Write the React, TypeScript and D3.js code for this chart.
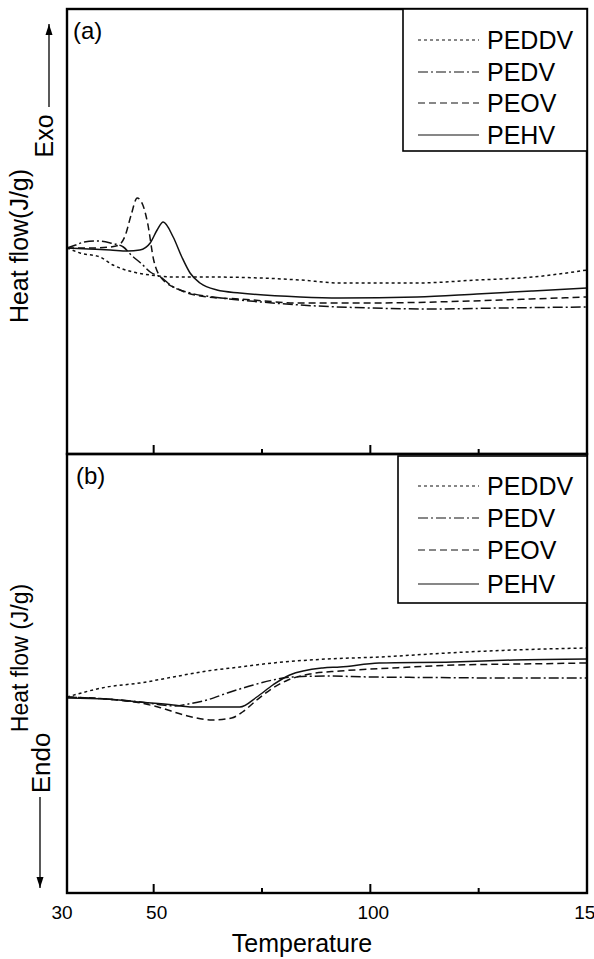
import React, { useEffect, useRef } from "react";
import * as d3 from "d3";

// Temperature (°C) and heat flow (arbitrary units)
// Panel (a): cooling scan
const coolPEDDV = [
  [30, 0], [33, -0.5], [37.6, -0.9], [40.6, -1.7], [45.2, -2.4], [49.2, -2.7],
  [54.5, -2.9], [62.3, -2.9], [83.8, -3.2], [93, -3.5], [110.8, -3.5],
  [124.6, -3.2], [137.5, -2.9], [150, -2.2],
];
const coolPEDV = [
  [30, 0], [32, 0.3], [34, 0.6], [37, 0.7], [40, 0.5], [43, 0.1], [44.8, -0.7],
  [47, -1.5], [49.2, -2.4], [51.6, -2.9], [54.5, -3.9], [58.4, -4.5],
  [63.7, -4.9], [69.9, -5.2], [83.8, -5.7], [100, -6.0], [115, -6.1],
  [130, -6.0], [150, -5.9],
];
const coolPEOV = [
  [30, 0], [36, 0], [40, 0.1], [42, 0.3], [43.4, 1.2], [44.8, 3.3], [46.2, 5.0],
  [47.5, 4.3], [48.6, 2.5], [50, -1.2], [51.6, -2.9], [56.1, -4.2],
  [62.3, -4.9], [69.9, -5.1], [83.8, -5.5], [100, -5.5], [115, -5.4],
  [130, -5.2], [150, -4.9],
];
const coolPEHV = [
  [30, 0], [35, -0.1], [40, -0.2], [44, -0.3], [46.8, -0.2], [49.2, 0.5],
  [50.8, 1.8], [52.2, 2.6], [54.5, 1.1], [56.5, -0.9], [58.4, -2.5],
  [60.7, -3.5], [64.6, -4.2], [69.9, -4.5], [83.8, -4.9], [93, -5.0],
  [110.8, -4.9], [124.6, -4.6], [137.5, -4.3], [150, -4.0],
];

// Panel (b): heating scan
const heatPEDDV = [
  [30, 0], [39.2, 1.0], [46.8, 1.4], [54.5, 2.0], [62.3, 2.6], [69.9, 3.0],
  [77.5, 3.4], [90, 3.8], [102.2, 4.0], [117.7, 4.4], [132.9, 4.7], [150, 4.9],
];
const heatPEDV = [
  [30, 0], [39, -0.2], [47, -0.5], [52, -0.8], [55, -0.9], [58, -0.7],
  [62.3, -0.3], [67, 0.4], [73, 1.2], [77.5, 1.7], [82, 2.0], [90, 2.1],
  [100, 2.0], [115, 1.95], [130, 1.9], [150, 1.9],
];
const heatPEOV = [
  [30, 0], [39, -0.2], [47, -0.6], [51, -1.0], [57, -1.8], [63.5, -2.3],
  [68, -2.1], [70.5, -1.5], [73.8, -0.3], [77.5, 0.9], [81, 1.7], [86, 2.3],
  [93, 2.6], [105, 2.9], [120, 3.2], [135, 3.3], [150, 3.4],
];
const heatPEHV = [
  [30, -0.1], [39.2, -0.2], [46.8, -0.5], [54.5, -0.8], [58.4, -1.0],
  [69.9, -1.0], [73.8, 0], [77.5, 1.2], [81.4, 2.2], [89, 2.9], [93, 3.0],
  [102, 3.4], [119, 3.5], [133, 3.7], [150, 3.8],
];

const seriesNames = ["PEDDV", "PEDV", "PEOV", "PEHV"];
const dashes = ["3,3", "10,3,2,3", "7,4", null];
const majorTicks = [30, 50, 100, 150];
const minorTicks = [75, 125];

const App = () => {
  const svgRef = useRef(null);

  useEffect(() => {
    const W = 594;
    const H = 959;
    const left = 67;
    const right = 587;
    const aTop = 9;
    const mid = 454;
    const bBottom = 893;
    const font = "'Liberation Sans', Arial, sans-serif";

    const svg = d3.select(svgRef.current);
    svg.selectAll("*").remove();
    svg.attr("width", W).attr("height", H);

    const x = d3.scaleLinear().domain([30, 150]).range([left, right]);
    const yA = d3.scaleLinear().domain([-20.6, 23.9]).range([mid, aTop]);
    const yB = d3.scaleLinear().domain([-19.6, 24.3]).range([bBottom, mid]);

    const panels = [
      { y: yA, top: aTop, bottom: mid, data: [coolPEDDV, coolPEDV, coolPEOV, coolPEHV] },
      { y: yB, top: mid, bottom: bBottom, data: [heatPEDDV, heatPEDV, heatPEOV, heatPEHV] },
    ];

    panels.forEach((p) => {
      const line = d3
        .line()
        .x((d) => x(d[0]))
        .y((d) => p.y(d[1]))
        .curve(d3.curveMonotoneX);
      p.data.forEach((s, i) => {
        svg
          .append("path")
          .datum(s)
          .attr("fill", "none")
          .attr("stroke", "#111")
          .attr("stroke-width", 1.5)
          .attr("stroke-dasharray", dashes[i])
          .attr("d", line);
      });

      // frame
      svg
        .append("rect")
        .attr("x", left)
        .attr("y", p.top)
        .attr("width", right - left)
        .attr("height", p.bottom - p.top)
        .attr("fill", "none")
        .attr("stroke", "#000")
        .attr("stroke-width", 2.4);

      // inward ticks on the bottom edge
      majorTicks.filter((t) => t > 30 && t < 150).forEach((t) => {
        svg.append("line")
          .attr("x1", x(t)).attr("x2", x(t))
          .attr("y1", p.bottom).attr("y2", p.bottom - 9)
          .attr("stroke", "#000").attr("stroke-width", 2);
      });
      minorTicks.forEach((t) => {
        svg.append("line")
          .attr("x1", x(t)).attr("x2", x(t))
          .attr("y1", p.bottom).attr("y2", p.bottom - 5)
          .attr("stroke", "#000").attr("stroke-width", 2);
      });
    });

    // legends
    const legends = [
      { x0: 403, top: aTop, bottom: 151, rows: [40, 72, 103, 135] },
      { x0: 398, top: mid + 2, bottom: 603, rows: [486, 518, 550, 584] },
    ];
    legends.forEach((lg) => {
      svg
        .append("rect")
        .attr("x", lg.x0)
        .attr("y", lg.top)
        .attr("width", right - lg.x0)
        .attr("height", lg.bottom - lg.top)
        .attr("fill", "#fff")
        .attr("stroke", "#000")
        .attr("stroke-width", 1.6);
      seriesNames.forEach((name, i) => {
        svg.append("line")
          .attr("x1", 418).attr("x2", 479)
          .attr("y1", lg.rows[i]).attr("y2", lg.rows[i])
          .attr("stroke", "#111").attr("stroke-width", 1.2)
          .attr("stroke-dasharray", dashes[i]);
        svg.append("text")
          .attr("x", 487).attr("y", lg.rows[i])
          .attr("dy", "0.36em")
          .style("font-family", font).style("font-size", "25px")
          .text(name);
      });
    });

    // panel tags
    svg.append("text").attr("x", 73).attr("y", 39)
      .style("font-family", font).style("font-size", "24px").text("(a)");
    svg.append("text").attr("x", 76).attr("y", 484)
      .style("font-family", font).style("font-size", "24px").text("(b)");

    // tick labels (the last one runs off the right edge, as in the original)
    majorTicks.forEach((t) => {
      svg.append("text")
        .attr("x", t === 30 ? x(t) - 5 : x(t) + 3)
        .attr("y", 919)
        .attr("text-anchor", "middle")
        .style("font-family", font).style("font-size", "19px")
        .text(t);
    });

    svg.append("text").attr("x", 302).attr("y", 952)
      .attr("text-anchor", "middle")
      .style("font-family", font).style("font-size", "25px")
      .text("Temperature");

    // rotated labels
    const vtext = (txt, cx, cy, size) =>
      svg.append("text")
        .attr("transform", `translate(${cx},${cy}) rotate(-90)`)
        .attr("text-anchor", "middle")
        .style("font-family", font).style("font-size", size)
        .text(txt);
    vtext("Heat flow(J/g)", 28, 246, "25px");
    vtext("Exo", 53, 136, "25px");
    vtext("Heat flow (J/g)", 28, 658, "23px");
    vtext("Endo", 50, 763, "26px");

    // arrows
    const arrow = (ax, y1, y2) => {
      svg.append("line")
        .attr("x1", ax).attr("x2", ax).attr("y1", y1).attr("y2", y2)
        .attr("stroke", "#000").attr("stroke-width", 1.3);
      const dir = y2 < y1 ? 1 : -1;
      svg.append("path")
        .attr("d", `M${ax},${y2} L${ax - 3.5},${y2 + dir * 11} L${ax + 3.5},${y2 + dir * 11} Z`)
        .attr("fill", "#000");
    };
    arrow(49, 107, 24);
    arrow(40, 797, 888);
  }, []);

  return (
    <div style={{ position: "absolute", left: 0, top: 0 }}>
      <svg ref={svgRef} />
    </div>
  );
};

export default App;
